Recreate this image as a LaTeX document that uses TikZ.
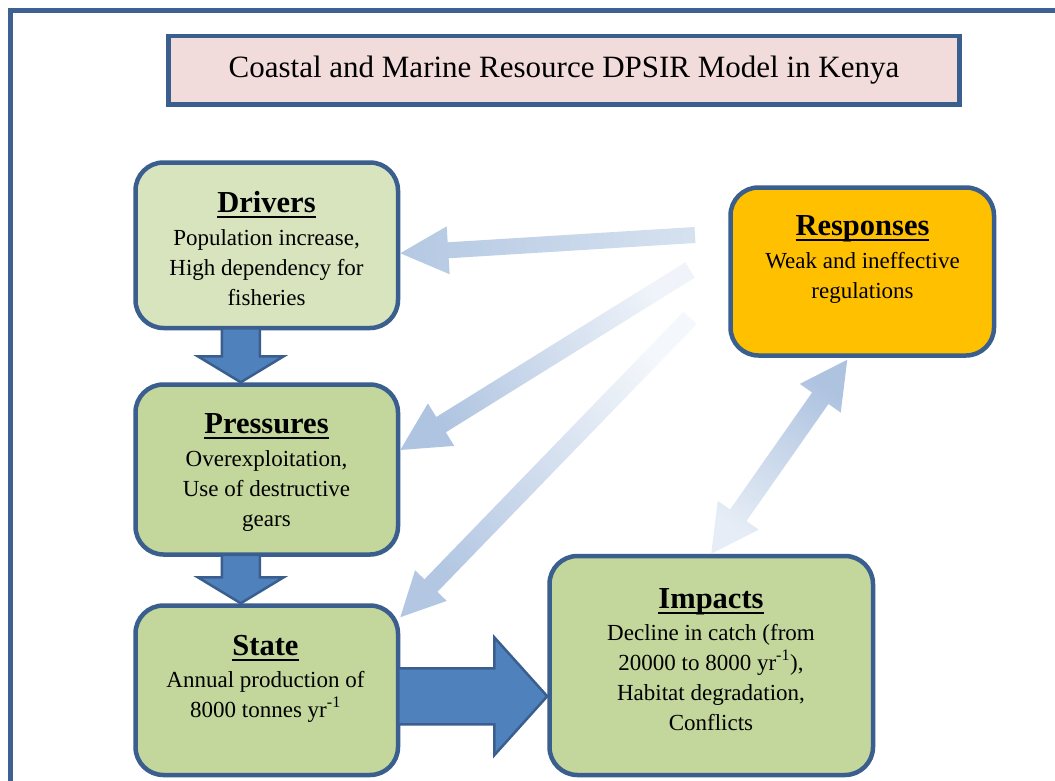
\documentclass[tikz,border=0pt]{standalone}
\usepackage{fontspec}
\setmainfont{Liberation Serif}
\usetikzlibrary{calc}
\definecolor{bordc}{HTML}{3A5F8E}
\definecolor{framec}{HTML}{3D6291}
\definecolor{titlef}{HTML}{F2DCDB}
\definecolor{drvf}{HTML}{D7E4BD}
\definecolor{grnf}{HTML}{C3D69B}
\definecolor{rspf}{HTML}{FFC000}
\definecolor{darkf}{HTML}{4F81BD}
\definecolor{laAt}{HTML}{D5E1EF}
\definecolor{laAh}{HTML}{B5C9E3}
\definecolor{laBt}{HTML}{F0F4FA}
\definecolor{laBh}{HTML}{AFC4E0}
\definecolor{laCt}{HTML}{F4F7FB}
\definecolor{laCh}{HTML}{B3C7E2}
\definecolor{laDa}{HTML}{AEC3E0}
\definecolor{laDb}{HTML}{E6EDF6}

\newcommand\hd[1]{{\fontsize{30.5}{30}\selectfont\bfseries\setbox0\hbox{#1}\rlap{\rule[-6pt]{\wd0}{2.5pt}}\box0}}
\newcommand\bodyfont{\fontsize{23}{30}\selectfont}

% fat shaded arrow: tail, tip, shaft half width, head half width, head length, tail colour, head colour
\newcommand\fatarrow[7]{%
  \path let \p1=(#1), \p2=(#2) in \pgfextra{%
    \pgfmathsetmacro\tmpang{atan2(\y2-\y1,\x2-\x1)}%
    \pgfmathsetmacro\tmplen{veclen(\x2-\x1,\y2-\y1)}%
    \xdef\faang{\tmpang}\xdef\falen{\tmplen}};
  \pgfmathsetmacro\fasha{\faang+90}%
  \shade[left color=#6, right color=#7, shading angle=\fasha, shift={(#1)}, rotate=\faang]
    (0,-#3) -- ({\falen-#5},-#3) -- ({\falen-#5},-#4) -- (\falen,0)
    -- ({\falen-#5},#4) -- ({\falen-#5},#3) -- (0,#3) -- cycle;
}
% double-headed shaded arrow: end a, end b, shaft half, head half, head length, colour at a, colour at b
\newcommand\dblarrow[7]{%
  \path let \p1=(#1), \p2=(#2) in \pgfextra{%
    \pgfmathsetmacro\tmpang{atan2(\y2-\y1,\x2-\x1)}%
    \pgfmathsetmacro\tmplen{veclen(\x2-\x1,\y2-\y1)}%
    \xdef\faang{\tmpang}\xdef\falen{\tmplen}};
  \pgfmathsetmacro\fasha{\faang+90}%
  \shade[left color=#6, right color=#7, shading angle=\fasha, shift={(#1)}, rotate=\faang]
    (0,0) -- (#5,#4) -- (#5,#3) -- ({\falen-#5},#3) -- ({\falen-#5},#4) -- (\falen,0)
    -- ({\falen-#5},-#4) -- ({\falen-#5},-#3) -- (#5,-#3) -- (#5,-#4) -- cycle;
}

\tikzset{
  box/.style={draw=bordc, line width=4.5pt, rounded corners=28pt, inner sep=0pt},
  txt/.style={anchor=base, inner sep=0pt, font=\bodyfont},
  darkarrow/.style={fill=darkf, draw=bordc, line width=2.5pt, line join=miter},
  frame/.style={draw=framec, line width=5pt},
}

\begin{document}
\begin{tikzpicture}[x=1pt, y=-1pt]
\useasboundingbox (0,0) rectangle (1055,780);
\clip (0,0) rectangle (1055,780);
\fill[white] (0,0) rectangle (1055,780);
\draw[frame] (10.5,10.5) rectangle (1090,820);

% title
\node[draw=bordc, line width=4.5pt, fill=titlef, minimum width=791pt, minimum height=68.5pt, inner sep=0pt,
      font=\fontsize{31}{36}\selectfont] (ttl) at (564,70.25) {Coastal and Marine Resource DPSIR Model in Kenya};

% boxes
\node[box, fill=drvf, minimum width=262.5pt, minimum height=165.5pt] (drv) at (266.75,245.25) {};
\node[box, fill=grnf, minimum width=262.5pt, minimum height=170pt] (prs) at (266.75,469.5) {};
\node[box, fill=grnf, minimum width=262.5pt, minimum height=169.5pt] (sta) at (266.75,690.25) {};
\node[box, fill=grnf, minimum width=323.5pt, minimum height=219pt] (imp) at (711.25,665.5) {};
\node[box, fill=rspf, minimum width=263.5pt, minimum height=168pt] (rsp) at (862.25,271.5) {};

% light (response) arrows
\coordinate (t1) at (695,235);
\coordinate (t2) at (690,270);
\coordinate (t3) at (690,318);
\coordinate (h1) at ([yshift=-8pt]drv.east);
\coordinate (h2) at ([yshift=19.5pt]prs.east);
\coordinate (h3) at ([yshift=-14pt]sta.north east);
\coordinate (d1) at ([xshift=-15pt,yshift=-2pt]rsp.south);
\coordinate (d2) at (imp.north);
\fatarrow{t1}{h1}{8}{24}{48}{laAt}{laAh}
\fatarrow{t2}{h2}{9}{25}{48}{laBt}{laBh}
\fatarrow{t3}{h3}{9}{22}{44}{laCt}{laCh}
\dblarrow{d2}{d1}{10}{25}{47}{laDb}{laDa}

% dark arrows
\draw[darkarrow] let \p1=([xshift=-26pt,yshift=2pt]drv.south), \p2=([xshift=-26pt]prs.north) in
  (\x1-19pt,\y1) -- (\x1-19pt,\y2+26pt) -- (\x1-43pt,\y2+26pt) -- (\x2,\y2)
  -- (\x1+43pt,\y2+26pt) -- (\x1+19pt,\y2+26pt) -- (\x1+19pt,\y1) -- cycle;
\draw[darkarrow] let \p1=([xshift=-26pt,yshift=2pt]prs.south), \p2=([xshift=-26pt]sta.north) in
  (\x1-19pt,\y1) -- (\x1-19pt,\y2+26pt) -- (\x1-43pt,\y2+26pt) -- (\x2,\y2)
  -- (\x1+43pt,\y2+26pt) -- (\x1+19pt,\y2+26pt) -- (\x1+19pt,\y1) -- cycle;
\draw[darkarrow] let \p1=([xshift=-2pt,yshift=-6pt]sta.east), \p2=(imp.west) in
  (\x1,\y1+28pt) -- (\x2-53pt,\y1+28pt) -- (\x2-53pt,\y1+59pt) -- (\x2,\y1)
  -- (\x2-53pt,\y1-59pt) -- (\x2-53pt,\y1-28pt) -- (\x1,\y1-28pt) -- cycle;

% texts
\node[txt] (drvt) at (266.5,212) {\begin{tabular}[t]{@{}c@{}}\hd{Drivers}\\[3pt] Population increase,\\ High dependency for\\ fisheries\end{tabular}};
\node[txt] (prst) at (266.5,433) {\begin{tabular}[t]{@{}c@{}}\hd{Pressures}\\[3pt] Overexploitation,\\ Use of destructive\\ gears\end{tabular}};
\node[txt] (stat) at (265.5,655) {\begin{tabular}[t]{@{}c@{}}\hd{State}\\[2pt] Annual production of\\ 8000 tonnes yr\textsuperscript{-1}\end{tabular}};
\node[txt] (impt) at (711,608) {\begin{tabular}[t]{@{}c@{}}\hd{Impacts}\\[2pt] Decline in catch (from\\ 20000 to 8000 yr\textsuperscript{-1}),\\ Habitat degradation,\\ Conflicts\end{tabular}};
\node[txt] (rspt) at (862.5,235) {\begin{tabular}[t]{@{}c@{}}\hd{Responses}\\[3pt] Weak and ineffective\\ regulations\end{tabular}};
\end{tikzpicture}
\end{document}
